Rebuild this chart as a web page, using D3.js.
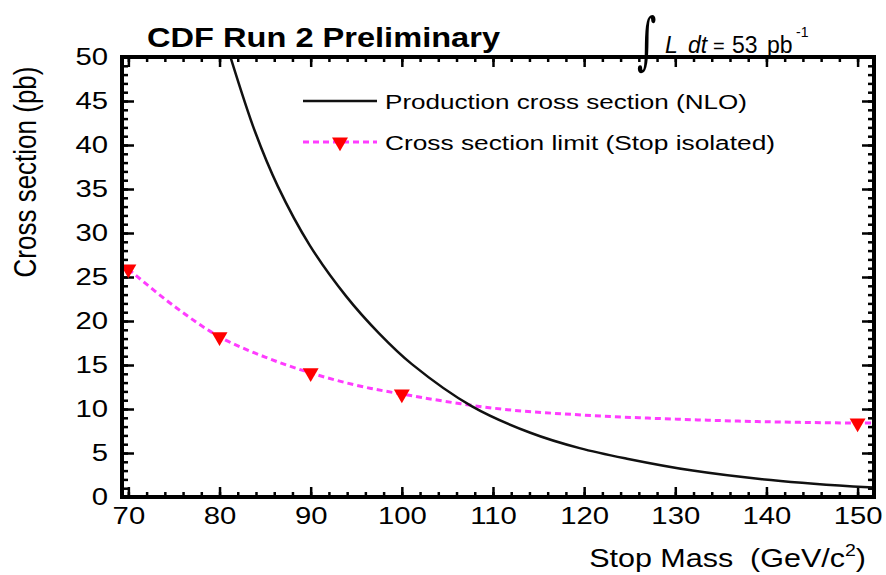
<!DOCTYPE html>
<html lang="en">
<head>
    <meta charset="UTF-8">
    <title>Stop cross section limit</title>
    <script src="https://cdn.jsdelivr.net/npm/d3@7"></script>
    <style>
        body { margin: 0; background: #fff; }
        text { font-family: "Liberation Sans", Arial, Helvetica, sans-serif; fill: #000; }
    </style>
</head>
<body>
<div id="myDiv"></div>
<script>

    // limit points (markers)
    const limitMass = [70, 80, 90, 100, 150];
    const limitXsec = [25.9, 18.2, 14.1, 11.7, 8.4];

    // fitted limit curve
    const limitCurveMass = [70, 75, 80, 85, 90, 95, 100, 110, 120, 130, 140, 150, 151.8];
    const limitCurveXsec = [25.9, 21.7, 18.2, 15.9, 14.1, 12.7, 11.7, 10.1, 9.3, 8.85, 8.55, 8.4, 8.4];

    // NLO production cross section
    const nloMass = [79.5, 81.2, 83.9, 86.4, 89.9, 93.9, 97.5, 101.1, 107.7, 114.1, 119.5, 124.7, 131.9, 139.3, 149.5, 151.8];
    const nloXsec = [56, 50, 41.5, 35.3, 28.6, 22.8, 18.6, 15.1, 10.3, 7.3, 5.55, 4.35, 3.0, 2.05, 1.2, 1.07];

    const xTicks = [70, 80, 90, 100, 110, 120, 130, 140, 150];
    const yTicks = [0, 5, 10, 15, 20, 25, 30, 35, 40, 45, 50];

    const W = 886, H = 575;
    const pLeft = 122, pRight = 874, pTop = 57, pBottom = 497;
    const stretch = "scale(1.22,1)";

    const svg = d3.select("#myDiv").append("svg")
        .attr("width", W)
        .attr("height", H);

    svg.append("rect").attr("width", W).attr("height", H).attr("fill", "#fff");

    const x = d3.scaleLinear().domain([69.3, 151.8]).range([pLeft, pRight]);
    const y = d3.scaleLinear().domain([0, 50]).range([pBottom, pTop]);

    svg.append("clipPath").attr("id", "plotClip")
        .append("rect")
        .attr("x", pLeft).attr("y", pTop)
        .attr("width", pRight - pLeft).attr("height", pBottom - pTop);

    // minor ticks
    const xMinor = d3.range(70, 152, 2);
    const yMinor = d3.range(0, 51, 1);

    function tickAxis(axis, pos, values, size) {
        const g = svg.append("g")
            .attr("transform", pos)
            .call(axis.tickValues(values).tickSize(size).tickFormat(""));
        g.select(".domain").remove();
        g.selectAll("line").attr("stroke", "#000").attr("stroke-width", 2.5);
        return g;
    }

    tickAxis(d3.axisBottom(x), `translate(0,${pBottom})`, xMinor, -5);
    tickAxis(d3.axisBottom(x), `translate(0,${pBottom})`, xTicks, -10);
    tickAxis(d3.axisTop(x), `translate(0,${pTop})`, xMinor, -5);
    tickAxis(d3.axisTop(x), `translate(0,${pTop})`, xTicks, -10);
    tickAxis(d3.axisLeft(y), `translate(${pLeft},0)`, yMinor, -6);
    tickAxis(d3.axisLeft(y), `translate(${pLeft},0)`, yTicks, -12);
    tickAxis(d3.axisRight(y), `translate(${pRight},0)`, yMinor, -6);
    tickAxis(d3.axisRight(y), `translate(${pRight},0)`, yTicks, -12);

    // tick labels
    const xLab = svg.append("g")
        .attr("transform", `translate(0,${pBottom})`)
        .call(d3.axisBottom(x).tickValues(xTicks).tickSize(0));
    xLab.select(".domain").remove();
    xLab.selectAll("text")
        .attr("y", null).attr("dy", "0.71em")
        .attr("transform", "translate(0,10) " + stretch)
        .style("font-size", "24px")
        .style("font-family", "'Liberation Sans', Arial, sans-serif");

    const yLab = svg.append("g")
        .attr("transform", `translate(${pLeft},0)`)
        .call(d3.axisLeft(y).tickValues(yTicks).tickSize(0));
    yLab.select(".domain").remove();
    yLab.selectAll("text")
        .attr("x", null)
        .attr("transform", "translate(-14,0) " + stretch)
        .style("font-size", "24px")
        .style("font-family", "'Liberation Sans', Arial, sans-serif");

    // curves
    const plot = svg.append("g").attr("clip-path", "url(#plotClip)");

    const line = d3.line()
        .x(d => x(d[0]))
        .y(d => y(d[1]))
        .curve(d3.curveCatmullRom.alpha(0.5));

    plot.append("path")
        .datum(d3.zip(limitCurveMass, limitCurveXsec))
        .attr("d", line)
        .attr("fill", "none")
        .attr("stroke", "#ff3cff")
        .attr("stroke-width", 3)
        .attr("stroke-dasharray", "6,4");

    plot.append("path")
        .datum(d3.zip(nloMass, nloXsec))
        .attr("d", line)
        .attr("fill", "none")
        .attr("stroke", "#111")
        .attr("stroke-width", 2.5);

    const tri = d3.symbol().type(d3.symbolTriangle).size(110);

    svg.append("g").selectAll("path")
        .data(d3.zip(limitMass, limitXsec))
        .enter()
        .append("path")
        .attr("d", tri)
        .attr("transform", d => `translate(${x(d[0])},${y(d[1])}) rotate(180)`)
        .attr("fill", "#ff0000");

    // frame
    svg.append("rect")
        .attr("x", pLeft).attr("y", pTop)
        .attr("width", pRight - pLeft).attr("height", pBottom - pTop)
        .attr("fill", "none")
        .attr("stroke", "#000")
        .attr("stroke-width", 4);

    // legend
    svg.append("line")
        .attr("x1", 303).attr("x2", 377).attr("y1", 101).attr("y2", 101)
        .attr("stroke", "#111").attr("stroke-width", 2.5);
    svg.append("line")
        .attr("x1", 303).attr("x2", 377).attr("y1", 142).attr("y2", 142)
        .attr("stroke", "#ff3cff").attr("stroke-width", 3)
        .attr("stroke-dasharray", "6,4");
    svg.append("path")
        .attr("d", tri)
        .attr("transform", "translate(340,142) rotate(180)")
        .attr("fill", "#ff0000");

    svg.append("text")
        .attr("transform", "translate(385,109) " + stretch)
        .attr("textLength", 362 / 1.22)
        .attr("lengthAdjust", "spacingAndGlyphs")
        .style("font-size", "21px")
        .text("Production cross section (NLO)");
    svg.append("text")
        .attr("transform", "translate(385,150) " + stretch)
        .attr("textLength", 390 / 1.22)
        .attr("lengthAdjust", "spacingAndGlyphs")
        .style("font-size", "21px")
        .text("Cross section limit (Stop isolated)");

    // titles
    svg.append("text")
        .attr("transform", "translate(147,47) " + stretch)
        .attr("textLength", 353 / 1.22)
        .attr("lengthAdjust", "spacingAndGlyphs")
        .style("font-size", "27px")
        .style("font-weight", "bold")
        .text("CDF Run 2 Preliminary");

    const xt = svg.append("text")
        .attr("transform", "translate(866,567) " + stretch)
        .attr("text-anchor", "end")
        .style("font-size", "25px");
    xt.append("tspan").text("Stop Mass\u00a0\u00a0(GeV/c");
    xt.append("tspan").attr("dy", -11).style("font-size", "16px").text("2");
    xt.append("tspan").attr("dy", 11).text(")");

    svg.append("text")
        .attr("transform", "translate(36,172) " + stretch + " rotate(-90)")
        .attr("text-anchor", "middle")
        .style("font-size", "26px")
        .text("Cross section (pb)");

    // luminosity label
    svg.append("text")
        .attr("transform", "translate(637,62) scale(0.6,1)")
        .style("font-family", "'DejaVu Serif', serif")
        .style("font-size", "62px")
        .text("\u222b");
    const lum = svg.append("text")
        .attr("y", 53)
        .style("font-size", "23px");
    lum.append("tspan").attr("x", 665).style("font-style", "italic").text("L");
    lum.append("tspan").attr("x", 688).style("font-style", "italic").text("dt");
    lum.append("tspan").attr("x", 713).style("font-size", "20px").text("=");
    lum.append("tspan").attr("x", 732).text("53");
    lum.append("tspan").attr("x", 767).text("pb");
    lum.append("tspan").attr("x", 796).attr("dy", -16).style("font-size", "14px").text("-1");

</script>
</body>
</html>
